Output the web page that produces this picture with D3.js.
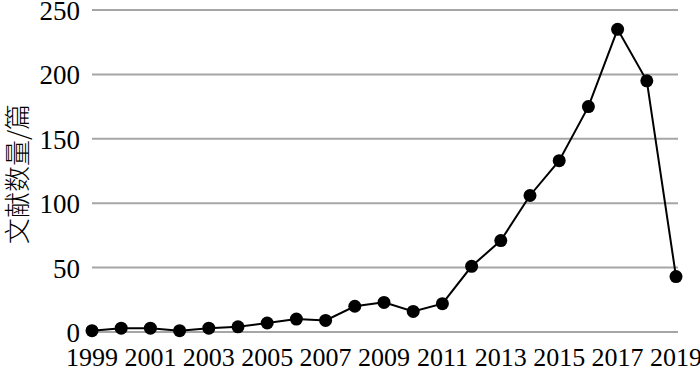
<!DOCTYPE html>
<html>
<head>
<meta charset="utf-8">
<script src="https://cdn.jsdelivr.net/npm/d3@7"></script>
<style>
  body { margin: 0; background: #fff; }
  svg { display: block; }
</style>
</head>
<body>
<div id="chart"></div>
<script>
// Data
const years = d3.range(1999, 2020);
const counts = [1, 3, 3, 1, 3, 4, 7, 10, 9, 20, 23, 16, 22, 51, 71, 106, 133, 175, 235, 195, 43];
const yTicks = [0, 50, 100, 150, 200, 250];
const xTicks = [1999, 2001, 2003, 2005, 2007, 2009, 2011, 2013, 2015, 2017, 2019];

const width = 700;
const height = 372;

const x = d3.scaleLinear()
  .domain([1999, 2019])
  .range([92, 676]);

const y = d3.scaleLinear()
  .domain([0, 250])
  .range([332, 10]);

const svg = d3.select("#chart")
  .append("svg")
    .attr("width", width)
    .attr("height", height);

// Gridlines
svg.append("g")
  .selectAll("line")
  .data(yTicks)
  .join("line")
    .attr("x1", 92)
    .attr("x2", 678)
    .attr("y1", d => y(d))
    .attr("y2", d => y(d))
    .attr("stroke", "#a6a6a6")
    .attr("stroke-width", 2);

// Y tick labels
svg.append("g")
  .selectAll("text")
  .data(yTicks)
  .join("text")
    .attr("x", 80)
    .attr("y", d => y(d) + 10)
    .attr("text-anchor", "end")
    .style("font-family", "'Liberation Serif', serif")
    .style("font-size", "27px")
    .text(d => d);

// X tick labels
svg.append("g")
  .selectAll("text")
  .data(xTicks)
  .join("text")
    .attr("x", d => x(d))
    .attr("y", 366)
    .attr("text-anchor", "middle")
    .style("font-family", "'Liberation Serif', serif")
    .style("font-size", "26px")
    .text(d => d);

// Y axis title
svg.append("text")
  .attr("transform", "translate(27, 174) rotate(-90)")
  .attr("text-anchor", "middle")
  .style("font-family", "'Noto Sans CJK SC', sans-serif")
  .style("font-size", "26px")
  .style("font-weight", 300)
  .text("文献数量/篇");

// Line
const points = years.map((yr, i) => ({ year: yr, value: counts[i] }));

svg.append("path")
  .datum(points)
  .attr("fill", "none")
  .attr("stroke", "#000")
  .attr("stroke-width", 2)
  .attr("d", d3.line().x(d => x(d.year)).y(d => y(d.value)));

svg.append("g")
  .selectAll("circle")
  .data(points)
  .join("circle")
    .attr("cx", d => x(d.year))
    .attr("cy", d => y(d.value))
    .attr("r", 6.5)
    .attr("fill", "#000");
</script>
</body>
</html>
